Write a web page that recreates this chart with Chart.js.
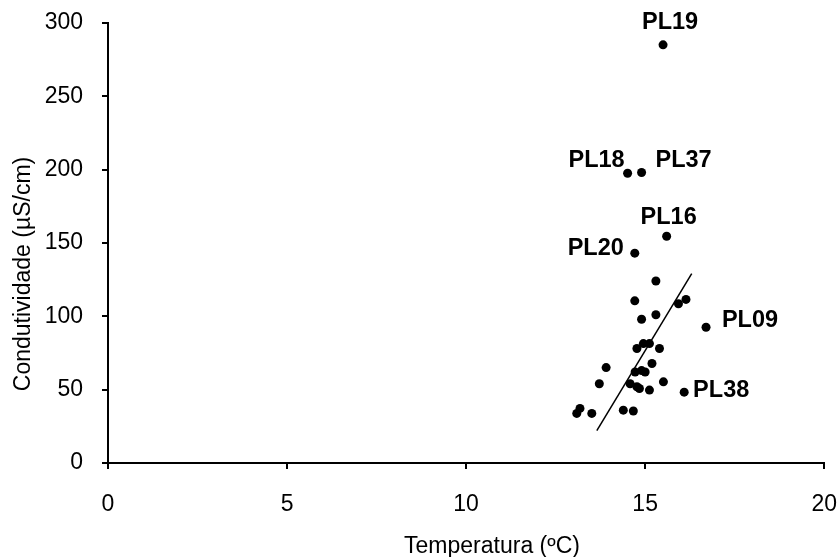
<!DOCTYPE html>
<html lang="pt">
<head>
  <meta charset="UTF-8">
  <title>Condutividade x Temperatura</title>
  <script src="https://cdn.jsdelivr.net/npm/chart.js"></script>
  <style>
    body {
      margin: 0;
      background: #fff;
      overflow: hidden;
    }
    /* a área de plotagem do Chart.js reserva espaço extra em cima e à direita;
       o canvas é um pouco maior e deslocado para compensar */
    #wrap {
      position: absolute;
      left: 0;
      top: -10px;
      width: 859px;
      height: 567px;
    }
  </style>
</head>
<body>
  <div id="wrap"><canvas id="chart"></canvas></div>

  <script>
    // Temperatura (ºC) e condutividade (µS/cm) de cada ponto
    const temperatura = [
      15.50, 14.51, 14.90, 15.60, 14.71, 16.70, 16.09,
      15.30, 14.71, 15.93, 16.14, 14.90, 15.30,
      15.12, 14.95, 14.77, 15.40, 13.91, 15.19,
      14.72, 15.00, 14.90, 13.72, 14.58, 14.77, 14.84,
      15.51, 15.12, 13.18, 13.09, 13.51, 14.39, 14.67
    ];
    const condutividade = [
      285, 197.5, 198, 154.5, 143, 92.5, 48.3,
      124, 110.5, 108.5, 111.5, 98, 101,
      81.4, 81.4, 78, 78, 65, 67.8,
      62, 62, 63, 54, 54, 52, 50.8,
      55.3, 49.7, 37.2, 33.8, 33.8, 36, 35.4
    ];
    const pontos = [
      'PL19', 'PL18', 'PL37', 'PL16', 'PL20', 'PL09', 'PL38'
    ];

    // reta de tendência
    const tendenciaX = [13.65, 16.30];
    const tendenciaY = [22, 129];

    const xTicks = [0, 5, 10, 15, 20];
    const yTicks = [0, 50, 100, 150, 200, 250, 300];

    const tituloX = 'Temperatura (ºC)';
    const tituloY = 'Condutividade (µS/cm)';

    // deslocamento do rótulo em relação ao ponto (px)
    const labelOffset = {
      PL19: [7, -22],
      PL18: [-31, -13],
      PL37: [42, -12],
      PL16: [2, -19],
      PL20: [-39, -5],
      PL09: [44, -7],
      PL38: [37, -2]
    };

    const FAMILY = '"Liberation Sans", Arial, sans-serif';

    const extras = {
      id: 'extras',
      afterDatasetsDraw(chart) {
        const ctx = chart.ctx;
        const meta = chart.getDatasetMeta(0);
        ctx.save();
        ctx.fillStyle = '#000';
        ctx.textAlign = 'center';
        ctx.textBaseline = 'middle';

        ctx.font = 'bold 23.5px ' + FAMILY;
        pontos.forEach((nome, i) => {
          const el = meta.data[i];
          const off = labelOffset[nome];
          ctx.fillText(nome, el.x + off[0], el.y + off[1]);
        });

        // títulos dos eixos (coordenadas da página; o canvas está 10px acima)
        ctx.font = '23px ' + FAMILY;
        ctx.fillText(tituloX, 492, 547 + 10);
        ctx.translate(24, 274 + 10);
        ctx.rotate(-Math.PI / 2);
        ctx.fillText(tituloY, 0, 0);
        ctx.restore();
      }
    };

    const tickFont = { family: FAMILY, size: 23 };

    new Chart(document.getElementById('chart'), {
      type: 'scatter',
      data: {
        datasets: [
          {
            data: temperatura.map((t, i) => ({ x: t, y: condutividade[i] })),
            backgroundColor: '#000',
            borderWidth: 0,
            pointRadius: 4.5
          },
          {
            data: tendenciaX.map((t, i) => ({ x: t, y: tendenciaY[i] })),
            showLine: true,
            borderColor: '#000',
            borderWidth: 1.5,
            pointRadius: 0
          }
        ]
      },
      options: {
        responsive: true,
        maintainAspectRatio: false,
        animation: false,
        layout: { padding: { left: 0, right: 0, top: 12, bottom: 0 } },
        plugins: {
          legend: { display: false },
          tooltip: { enabled: false }
        },
        scales: {
          x: {
            type: 'linear',
            min: 0,
            max: 20,
            afterBuildTicks(scale) {
              scale.ticks = xTicks.map(v => ({ value: v }));
            },
            afterFit(scale) { scale.height = 94; },
            border: { display: true, color: '#000', width: 2 },
            grid: { drawOnChartArea: false, drawTicks: true, tickLength: 6, color: '#000', lineWidth: 2 },
            ticks: { color: '#000', font: tickFont, padding: 22, maxRotation: 0 }
          },
          y: {
            type: 'linear',
            min: 0,
            max: 300,
            afterBuildTicks(scale) {
              scale.ticks = yTicks.map(v => ({ value: v }));
            },
            afterFit(scale) { scale.width = 108; },
            border: { display: true, color: '#000', width: 2 },
            grid: { drawOnChartArea: false, drawTicks: true, tickLength: 6, color: '#000', lineWidth: 2 },
            ticks: { color: '#000', font: tickFont, padding: 19 }
          }
        }
      },
      plugins: [extras]
    });
  </script>
</body>
</html>
